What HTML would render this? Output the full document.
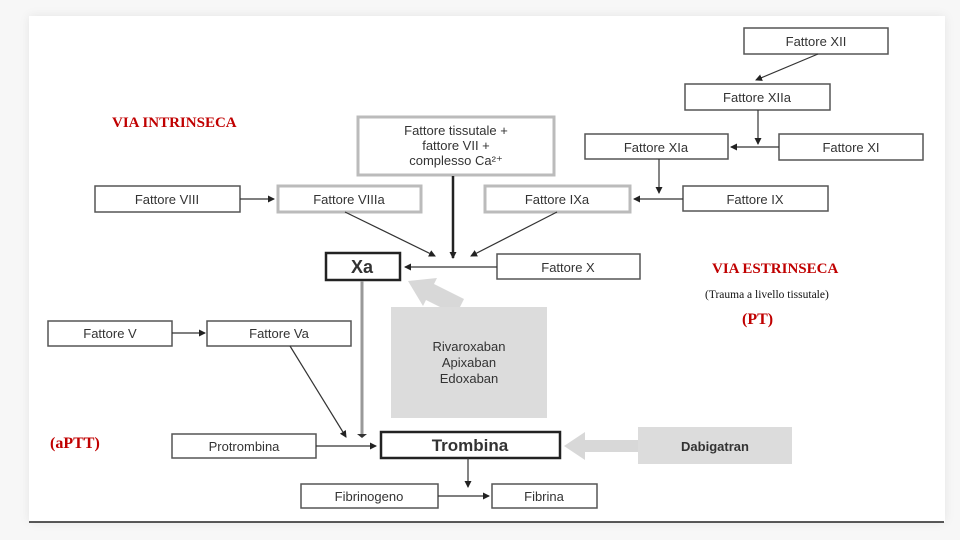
<!DOCTYPE html>
<html><head><meta charset="utf-8"><style>
html,body{margin:0;padding:0;background:#fff;}
.wrap{position:relative;width:960px;height:540px;overflow:hidden;background:#f7f7f7;}
.card{position:absolute;left:29px;top:16px;width:916px;height:506px;background:#fff;box-shadow:0 0 10px rgba(0,0,0,0.08);}
svg{position:absolute;left:0;top:0;}
text{font-family:"Liberation Sans",sans-serif;fill:#333;}
.r{font-family:"Liberation Serif",serif;fill:#c00000;font-weight:bold;}
</style></head><body><div class="wrap"><div class="card"></div>
<svg width="960" height="540" viewBox="0 0 960 540">
<defs>
<marker id="a" markerUnits="userSpaceOnUse" markerWidth="7" markerHeight="7" refX="6" refY="3.5" orient="auto"><path d="M0,0 L7,3.5 L0,7z" fill="#222"/></marker>
</defs>
<g fill="#fff" stroke="#555" stroke-width="1.5">
<rect x="744" y="28" width="144" height="26"/>
<rect x="685" y="84" width="145" height="26"/>
<rect x="585" y="134" width="143" height="25"/>
<rect x="779" y="134" width="144" height="26"/>
<rect x="683" y="186" width="145" height="25"/>
<rect x="95" y="186" width="145" height="26"/>
<rect x="497" y="254" width="143" height="25"/>
<rect x="48" y="321" width="124" height="25"/>
<rect x="207" y="321" width="144" height="25"/>
<rect x="172" y="434" width="144" height="24"/>
<rect x="301" y="484" width="137" height="24"/>
<rect x="492" y="484" width="105" height="24"/>
</g>
<g fill="#fff" stroke="#bbb" stroke-width="3">
<rect x="485" y="186" width="145" height="26"/>
<rect x="278" y="186" width="143" height="26"/>
<rect x="358" y="117" width="196" height="58"/>
</g>
<rect x="326" y="253" width="74" height="27" fill="#fff" stroke="#222" stroke-width="2.5"/>
<rect x="381" y="432" width="179" height="26" fill="#fff" stroke="#222" stroke-width="2.5"/>
<path d="M464,299 L434,284 L437,278 L408,281 L423,306 L426,300 L456,315z" fill="#d8d8d8"/>
<rect x="391" y="307" width="156" height="111" fill="#dcdcdc"/>
<rect x="638" y="427" width="154" height="37" fill="#dcdcdc"/>
<path d="M638,440 L585,440 L585,432 L564,446 L585,460 L585,452 L638,452z" fill="#d8d8d8"/>
<g stroke="#333" stroke-width="1.2" fill="none" marker-end="url(#a)">
<line x1="818" y1="54" x2="756" y2="80"/>
<line x1="758" y1="110" x2="758" y2="144"/>
<line x1="779" y1="147" x2="731" y2="147"/>
<line x1="659" y1="159" x2="659" y2="193"/>
<line x1="683" y1="199" x2="634" y2="199"/>
<line x1="240" y1="199" x2="274" y2="199"/>
<line x1="345" y1="212" x2="435" y2="256"/>
<line x1="557" y1="212" x2="471" y2="256"/>
<line x1="497" y1="267" x2="405" y2="267"/>
<line x1="172" y1="333" x2="205" y2="333"/>
<line x1="290" y1="346" x2="346" y2="437"/>
<line x1="316" y1="446" x2="376" y2="446"/>
<line x1="468" y1="458" x2="468" y2="487"/>
<line x1="438" y1="496" x2="489" y2="496"/>
</g>
<line x1="453" y1="176" x2="453" y2="258" stroke="#222" stroke-width="2.5" marker-end="url(#a)"/>
<line x1="362" y1="281" x2="362" y2="436" stroke="#999" stroke-width="3"/>
<path d="M357,434 L362,438 L367,434z" fill="#333"/>
<line x1="29" y1="522" x2="944" y2="522" stroke="#222" stroke-width="1.5"/>
<g font-size="13" text-anchor="middle">
<text x="816" y="46">Fattore XII</text>
<text x="757" y="102">Fattore XIIa</text>
<text x="656" y="152">Fattore XIa</text>
<text x="851" y="152">Fattore XI</text>
<text x="755" y="204">Fattore IX</text>
<text x="557" y="204">Fattore IXa</text>
<text x="167" y="204">Fattore VIII</text>
<text x="349" y="204">Fattore VIIIa</text>
<text x="456" y="135">Fattore tissutale +</text>
<text x="456" y="150">fattore VII +</text>
<text x="456" y="165">complesso Ca²⁺</text>
<text x="568" y="272">Fattore X</text>
<text x="110" y="338">Fattore V</text>
<text x="279" y="338">Fattore Va</text>
<text x="244" y="451">Protrombina</text>
<text x="369" y="501">Fibrinogeno</text>
<text x="544" y="501">Fibrina</text>
<text x="469" y="351">Rivaroxaban</text>
<text x="469" y="367">Apixaban</text>
<text x="469" y="383">Edoxaban</text>
<text x="715" y="451" font-weight="bold">Dabigatran</text>
<text x="362" y="273" font-size="18" font-weight="bold" fill="#222">Xa</text>
<text x="470" y="451" font-size="17" font-weight="bold" fill="#222">Trombina</text>
</g>
<text class="r" x="112" y="127" font-size="15">VIA INTRINSECA</text>
<text class="r" x="712" y="273" font-size="15">VIA ESTRINSECA</text>
<text x="705" y="298" font-size="11.5" style="font-family:'Liberation Serif',serif;fill:#111">(Trauma a livello tissutale)</text>
<text class="r" x="742" y="324" font-size="16">(PT)</text>
<text class="r" x="50" y="448" font-size="16">(aPTT)</text>
</svg></div></body></html>
